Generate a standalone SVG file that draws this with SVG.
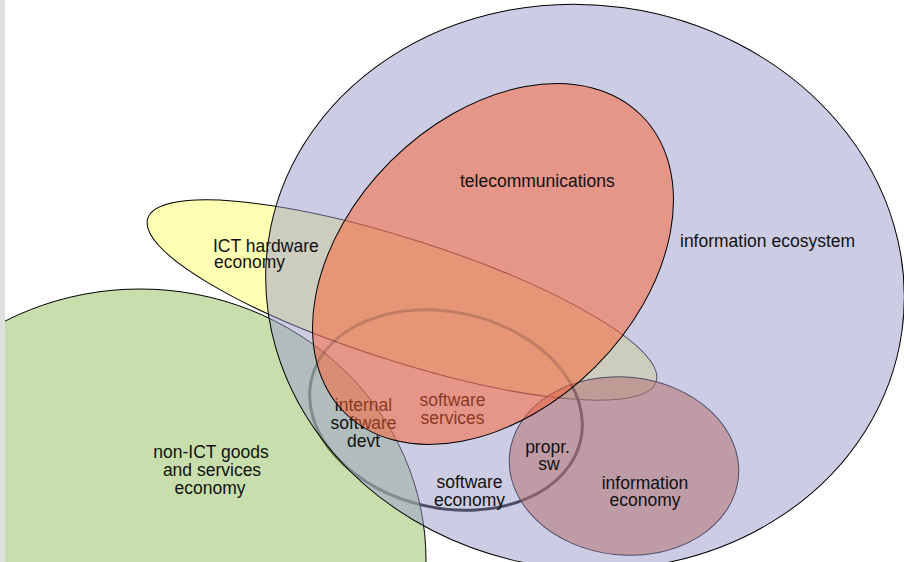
<svg xmlns="http://www.w3.org/2000/svg" width="904" height="562" viewBox="0 0 904 562">
<style>
text{font-family:"Liberation Sans",Arial,sans-serif;font-size:17.5px;fill:#111}
.c{text-anchor:middle}
.ol{stroke:#000;stroke-width:1}
</style>
<defs>
<mask id="outRed" maskUnits="userSpaceOnUse" x="0" y="0" width="904" height="562">
<rect width="904" height="562" fill="#fff"/>
<ellipse cx="493" cy="264" rx="210" ry="145" transform="rotate(-45 493 264)" fill="#000"/>
</mask>
<clipPath id="inRed"><ellipse cx="493" cy="264" rx="210" ry="145" transform="rotate(-45 493 264)"/></clipPath>
</defs>
<rect width="904" height="562" fill="#fff"/>
<g id="ict-hardware-economy">
<ellipse class="ol" cx="402" cy="300" rx="267" ry="61" transform="rotate(17.8 402 300)" fill="#ffffb3"/>
</g>
<g id="software-economy">
<g mask="url(#outRed)">
<ellipse cx="446" cy="410" rx="138" ry="98" transform="rotate(12.6 446 410)" fill="none" stroke="#000" stroke-width="3"/>
</g>
</g>
<g id="information-economy">
<ellipse class="ol" cx="624" cy="466" rx="115" ry="89" transform="rotate(6 624 466)" fill="#d04d18" fill-opacity="0.55"/>
</g>
<g id="non-ict-economy">
<ellipse class="ol" cx="140" cy="560" rx="286" ry="271" fill="#a8ca7a" fill-opacity="0.62"/>
<text class="c" x="211" y="458">non-ICT goods</text>
<text class="c" x="212" y="476">and services</text>
<text class="c" x="210" y="494">economy</text>
</g>
<g id="information-ecosystem">
<ellipse class="ol" cx="585" cy="287" rx="320" ry="282" transform="rotate(8 585 287)" fill="#9999cc" fill-opacity="0.5"/>
<text x="680" y="247">information ecosystem</text>
</g>
<g id="region-labels">
<text class="c" x="363.5" y="411">internal</text>
<text class="c" x="363.5" y="429">software</text>
<text class="c" x="363.5" y="447">devt</text>
<text class="c" x="452.5" y="406">software</text>
<text class="c" x="452.5" y="424">services</text>
</g>
<g id="telecommunications">
<ellipse class="ol" cx="493" cy="264" rx="210" ry="145" transform="rotate(-45 493 264)" fill="#ff5e2e" fill-opacity="0.5"/>
<text x="460" y="187">telecommunications</text>
</g>
<g id="software-economy-ring-in-telecom" clip-path="url(#inRed)">
<ellipse cx="446" cy="410" rx="138" ry="98" transform="rotate(12.6 446 410)" fill="none" stroke="#000" stroke-opacity="0.16" stroke-width="3"/>
</g>
<g id="labels">
<text x="213" y="252">ICT hardware</text>
<text x="214" y="268">economy</text>
<text class="c" x="469.5" y="488">software</text>
<text class="c" x="469.5" y="506">economy</text>
<text class="c" x="547.5" y="453">propr.</text>
<text class="c" x="549" y="470">sw</text>
<text class="c" x="645" y="489">information</text>
<text class="c" x="645" y="506">economy</text>
</g>
<rect x="0" y="0" width="5" height="562" fill="#e0e0e0"/>
</svg>
